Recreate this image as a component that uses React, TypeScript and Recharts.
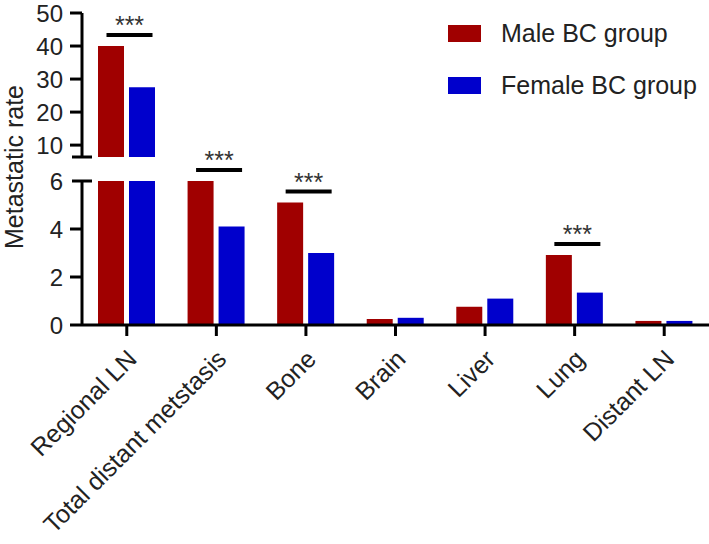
import { BarChart, Bar, XAxis, YAxis, Legend, LabelList } from "recharts";

const categories = ["Regional LN", "Total distant metstasis", "Bone", "Brain", "Liver", "Lung", "Distant LN"];
const seriesNames = ["Male BC group", "Female BC group"];
const maleRate = [40, 6.0, 5.1, 0.25, 0.76, 2.92, 0.17];
const femaleRate = [27.5, 4.1, 3.0, 0.3, 1.1, 1.35, 0.17];
const significance = ["***", "***", "***", "", "", "***", ""];

const upperTicks = [10, 20, 30, 40, 50];
const lowerTicks = [0, 2, 4, 6];
// axis break: lower segment 0-6, upper segment starts a bit above it
const LOWER_MAX = 6;
const UPPER_MIN = 6.4;
const UPPER_MAX = 50;

const MALE = "#a00000";
const FEMALE = "#0000cc";
const FONT = "'Liberation Sans', Arial, sans-serif";
const TICK_SIZE = 12;
const TICK_MARGIN = 7;
const W = 709;

const upperData = categories.map((c, i) => ({
  name: c,
  male: maleRate[i] > LOWER_MAX ? maleRate[i] : null,
  female: femaleRate[i] > LOWER_MAX ? femaleRate[i] : null,
  sig: maleRate[i] > LOWER_MAX ? significance[i] : "",
}));

const lowerData = categories.map((c, i) => ({
  name: c,
  male: maleRate[i],
  female: femaleRate[i],
  sig: maleRate[i] <= LOWER_MAX ? significance[i] : "",
}));

function makeYTick(capValue: number, capLabel: boolean) {
  return (props: any) => {
    const { x, y, payload } = props;
    const axisX = x + TICK_SIZE + TICK_MARGIN;
    const isCap = payload.value === capValue;
    return (
      <g>
        {isCap ? (
          <line x1={axisX - 10} x2={axisX + 10} y1={y} y2={y} stroke="#000" strokeWidth={3} />
        ) : (
          <line x1={axisX - TICK_SIZE} x2={axisX} y1={y} y2={y} stroke="#000" strokeWidth={3} />
        )}
        {(!isCap || capLabel) && (
          <text x={x} y={y} textAnchor="end" dominantBaseline="central" fontSize={24} fontFamily={FONT} fill="#222">
            {payload.value}
          </text>
        )}
      </g>
    );
  };
}

function XTick(props: any) {
  const { x, y, payload } = props;
  const px = x - 1;
  const py = y + 8;
  return (
    <text
      x={px}
      y={py}
      transform={`rotate(-45 ${px} ${py})`}
      textAnchor="end"
      dy="0.71em"
      fontSize={25}
      fontFamily={FONT}
      fill="#222"
    >
      {payload.value}
    </text>
  );
}

function renderSig(props: any) {
  const { x, y, width, value } = props;
  if (!value || x == null) return null;
  const center = x + width + 2.5;
  const lineY = y - 11;
  return (
    <g>
      <line x1={center - 20} x2={center + 26} y1={lineY} y2={lineY} stroke="#000" strokeWidth={4} />
      <text x={center + 3} y={lineY - 1} textAnchor="middle" fontSize={25} fontFamily={FONT} fill="#333">
        {value}
      </text>
    </g>
  );
}

function LegendContent(props: any) {
  const items = [...(props.payload || [])].sort(
    (a: any, b: any) => seriesNames.indexOf(a.value) - seriesNames.indexOf(b.value)
  );
  return (
    <div>
      {items.map((entry: any) => (
        <div key={entry.value} style={{ display: "flex", alignItems: "center", height: 51.5 }}>
          <span style={{ width: 33, height: 17, background: entry.color, display: "inline-block", marginRight: 20 }} />
          <span style={{ fontSize: 25, fontFamily: FONT, color: "#222", whiteSpace: "nowrap" }}>{entry.value}</span>
        </div>
      ))}
    </div>
  );
}

function AxisTitle(props: any) {
  const { viewBox } = props;
  const cx = 14;
  const cy = viewBox.y - 14;
  return (
    <text x={cx} y={cy} transform={`rotate(-90 ${cx} ${cy})`} textAnchor="middle" dominantBaseline="central" fontSize={25} fontFamily={FONT} fill="#222">
      Metastatic rate
    </text>
  );
}

export default function App() {
  return (
    <div style={{ position: "relative", width: W, height: 544, background: "#fff" }}>
      <style>{`body{margin:0} .recharts-surface{overflow:visible}`}</style>
      <div style={{ position: "absolute", left: 0, top: 0 }}>
        <BarChart width={W} height={160} data={upperData} margin={{ top: 13, right: 0, bottom: 3, left: 0 }} barSize={26} barGap={5}>
          <XAxis dataKey="name" hide />
          <YAxis
            width={82}
            domain={[UPPER_MIN, UPPER_MAX]}
            ticks={[UPPER_MIN, ...upperTicks]}
            interval={0}
            allowDataOverflow
            axisLine={{ stroke: "#000", strokeWidth: 3 }}
            tickLine={false}
            tickSize={TICK_SIZE}
            tickMargin={TICK_MARGIN}
            tick={makeYTick(UPPER_MIN, false)}
          />
          <Legend
            layout="vertical"
            align="center"
            verticalAlign="middle"
            wrapperStyle={{ top: 8, left: 448, width: 261 }}
            content={LegendContent}
          />
          <Bar dataKey="male" name={seriesNames[0]} fill={MALE} isAnimationActive={false}>
            <LabelList dataKey="sig" content={renderSig} />
          </Bar>
          <Bar dataKey="female" name={seriesNames[1]} fill={FEMALE} isAnimationActive={false} />
        </BarChart>
      </div>
      <div style={{ position: "absolute", left: 0, top: 160 }}>
        <BarChart width={W} height={384} data={lowerData} margin={{ top: 21, right: 0, bottom: 0, left: 0 }} barSize={26} barGap={5}>
          <XAxis
            dataKey="name"
            height={219}
            interval={0}
            axisLine={{ stroke: "#000", strokeWidth: 3 }}
            tickLine={{ stroke: "#000", strokeWidth: 3 }}
            tickSize={11}
            tickMargin={4}
            tick={XTick}
          />
          <YAxis
            width={82}
            domain={[0, LOWER_MAX]}
            ticks={lowerTicks}
            interval={0}
            allowDataOverflow
            axisLine={{ stroke: "#000", strokeWidth: 3 }}
            tickLine={false}
            tickSize={TICK_SIZE}
            tickMargin={TICK_MARGIN}
            tick={makeYTick(LOWER_MAX, true)}
            label={<AxisTitle />}
          />
          <Bar dataKey="male" name={seriesNames[0]} fill={MALE} isAnimationActive={false}>
            <LabelList dataKey="sig" content={renderSig} />
          </Bar>
          <Bar dataKey="female" name={seriesNames[1]} fill={FEMALE} isAnimationActive={false} />
        </BarChart>
      </div>
    </div>
  );
}
